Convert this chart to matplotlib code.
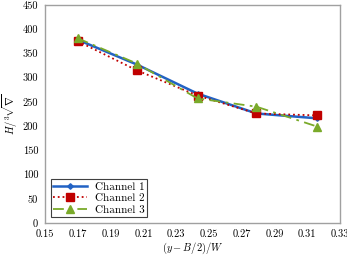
import matplotlib
matplotlib.use("Agg")
import matplotlib.pyplot as plt

plt.rcParams['font.family'] = 'serif'
plt.rcParams['font.serif'] = ['cmr10', 'DejaVu Serif']
plt.rcParams['mathtext.fontset'] = 'cm'
plt.rcParams['axes.unicode_minus'] = False

# values
x = [0.170, 0.206, 0.243, 0.279, 0.316]
channel1 = [378, 327, 267, 226, 216]
channel2 = [375, 315, 263, 226, 222]
channel3 = [381, 329, 257, 240, 199]

xticks = [0.15, 0.17, 0.19, 0.21, 0.23, 0.25, 0.27, 0.29, 0.31, 0.33]
yticks = [0, 50, 100, 150, 200, 250, 300, 350, 400, 450]

fig = plt.figure(figsize=(3.47, 2.59), dpi=100)
ax = fig.add_axes([0.130, 0.139, 0.850, 0.842])

ax.plot(x, channel1, color='#2262c4', linestyle='-', linewidth=1.8,
        marker='D', markersize=2.8, label='Channel 1')
ax.plot(x, channel2, color='#c00000', linestyle=':', linewidth=1.3,
        marker='s', markersize=5.5, label='Channel 2')
ax.plot(x, channel3, color='#7aaa2a', linestyle=(0, (6, 3, 1.5, 3)), linewidth=1.3,
        marker='^', markersize=5.5, label='Channel 3')

ax.set_xlim(0.15, 0.33)
ax.set_ylim(0, 450)
ax.set_xticks(xticks)
ax.set_xticklabels(['%.2f' % t for t in xticks])
ax.set_yticks(yticks)
ax.set_yticklabels([str(t) for t in yticks])
ax.tick_params(length=0, labelsize=7.5, pad=5)

for s in ax.spines.values():
    s.set_color('#a0a0a0')
    s.set_linewidth(1.0)

ax.set_xlabel(r'$(y-B/2)/W$', fontsize=7.5, labelpad=1)
ax.set_ylabel(r'$H/^3\!\sqrt{\nabla}$', fontsize=7.5, labelpad=2)

leg = ax.legend(loc='lower left', fontsize=8, fancybox=False, framealpha=1,
                edgecolor='#404040', handlelength=3.0, borderpad=0.25,
                labelspacing=0.15, handletextpad=0.7, borderaxespad=0.5)
leg.get_frame().set_linewidth(0.8)

fig.savefig('out.png', dpi=100)
